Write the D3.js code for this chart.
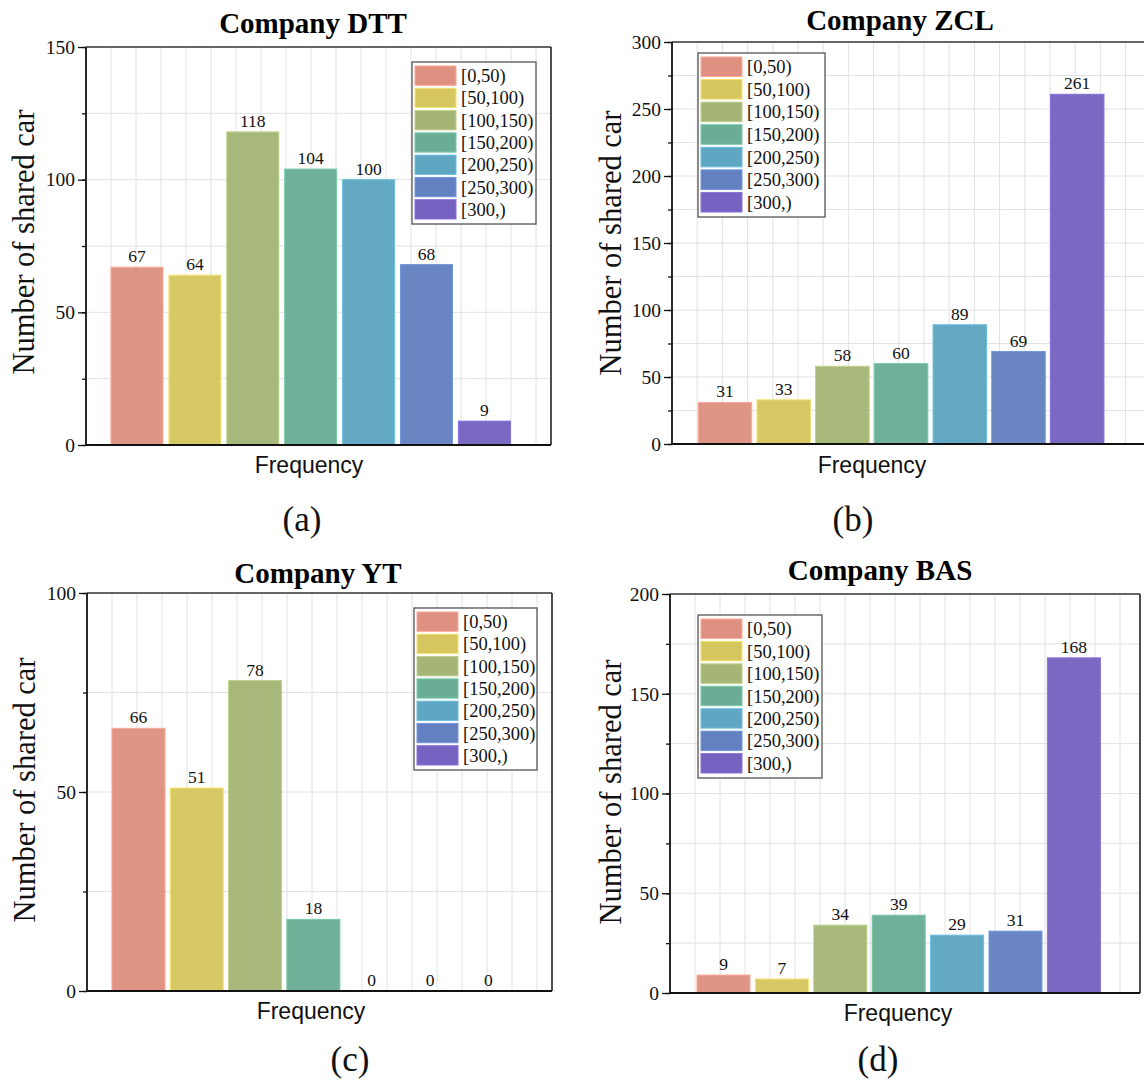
<!DOCTYPE html>
<html>
<head>
<meta charset="utf-8">
<script src="https://cdn.jsdelivr.net/npm/d3@7"></script>
<style>
  body{margin:0;background:#fff;}
  svg{display:block;}
</style>
</head>
<body>
<script>
var W=1144,H=1084,
    SERIF="'Liberation Serif','Times New Roman',serif",
    SANS="'Liberation Sans',Arial,sans-serif";

// data
var bins=["[0,50)","[50,100)","[100,150)","[150,200)","[200,250)","[250,300)","[300,)"];
var binColors=["#de9181","#d5c660","#a4b576","#69ae94","#5ea6c2","#6381c0","#7662c0"];
var companies=["Company DTT","Company ZCL","Company YT","Company BAS"];
var tags=["(a)","(b)","(c)","(d)"];
var dtt=[67,64,118,104,100,68,9];
var zcl=[31,33,58,60,89,69,261];
var yt=[66,51,78,18,0,0,0];
var bas=[9,7,34,39,29,31,168];
var yMax=[150,300,100,200];
var yMajor=[50,50,50,50];
var yMinor=[25,25,25,25];
var seriesList=[dtt,zcl,yt,bas];

// layout of each panel (pixels)
var panels=[
  {l:86,r:551,t:47,b:445,c0:137,step:57.9,bw:52,grid:25,
   leg:[412,62,124,162],title:[313,33],ylab:[34,242],xlab:[309,473],tag:[302,531]},
  {l:672,r:1150,t:42,b:444,c0:725,step:58.7,bw:53.5,grid:25.2,
   leg:[698,53,127,164],title:[900,30],ylab:[621,243],xlab:[872,473],tag:[853,531]},
  {l:87,r:552,t:593,b:991,c0:138.5,step:58.3,bw:53,grid:25,
   leg:[414,608,123,162],title:[318,583],ylab:[35,790],xlab:[311,1019],tag:[350,1071]},
  {l:670,r:1140,t:594,b:993,c0:723.5,step:58.4,bw:53,grid:25,
   leg:[698,615,124,163],title:[880,580],ylab:[621,792],xlab:[898,1021],tag:[878,1071]}
];

var svg=d3.select("body").append("svg").attr("width",W).attr("height",H);

panels.forEach(function(p,k){
  var vals=seriesList[k];
  var g=svg.append("g");
  var d0=-(p.c0-p.l)/p.step, d1=d0+(p.r-p.l)/p.step;
  var x=d3.scaleLinear().domain([d0,d1]).range([p.l,p.r]);
  var y=d3.scaleLinear().domain([0,yMax[k]]).range([p.b,p.t]);

  var clipId="clip"+k;
  g.append("clipPath").attr("id",clipId).append("rect")
    .attr("x",p.l).attr("y",p.t).attr("width",p.r-p.l).attr("height",p.b-p.t);

  // grid
  var gridG=g.append("g").attr("clip-path","url(#"+clipId+")");
  var gx=d3.range(d0+p.grid/p.step,d1,p.grid/p.step);
  gridG.selectAll("line.vx").data(gx).enter().append("line")
    .attr("x1",function(d){return x(d);}).attr("x2",function(d){return x(d);})
    .attr("y1",p.t).attr("y2",p.b)
    .attr("stroke","#e2e2e2").attr("stroke-width",1);
  var gy=d3.range(yMinor[k],yMax[k],yMinor[k]);
  gridG.selectAll("line.hy").data(gy).enter().append("line")
    .attr("x1",p.l).attr("x2",p.r)
    .attr("y1",function(d){return y(d);}).attr("y2",function(d){return y(d);})
    .attr("stroke","#e2e2e2").attr("stroke-width",1);

  // bars
  g.append("g").selectAll("rect").data(vals).enter().append("rect")
    .attr("x",function(d,i){return x(i)-p.bw/2;})
    .attr("y",function(d){return y(d);})
    .attr("width",p.bw)
    .attr("height",function(d){return y(0)-y(d);})
    .attr("fill",function(d,i){return binColors[i];})
    .attr("fill-opacity",0.96)
    .attr("stroke",function(d,i){return d3.rgb(binColors[i]).brighter(0.4);})
    .attr("stroke-width",1);

  // value labels
  g.append("g").selectAll("text").data(vals).enter().append("text")
    .style("font-family",SERIF)
    .attr("x",function(d,i){return x(i);})
    .attr("y",function(d){return y(d)-5;})
    .attr("text-anchor","middle")
    .attr("font-size",17.5)
    .attr("fill","#111")
    .text(function(d){return d;});

  // frame
  g.append("line").attr("x1",p.l).attr("x2",p.r).attr("y1",p.t).attr("y2",p.t)
    .attr("stroke","#333").attr("stroke-width",1.6);
  g.append("line").attr("x1",p.r).attr("x2",p.r).attr("y1",p.t).attr("y2",p.b)
    .attr("stroke","#222").attr("stroke-width",1.6);
  g.append("line").attr("x1",p.l).attr("x2",p.r).attr("y1",p.b).attr("y2",p.b)
    .attr("stroke","#111").attr("stroke-width",1.8);

  // y axis, minor then major ticks
  var minorAx=d3.axisLeft(y).tickValues(d3.range(0,yMax[k]+0.1,yMinor[k])).tickSize(4).tickFormat("");
  g.append("g").attr("transform","translate("+p.l+",0)").call(minorAx)
    .call(function(s){s.select(".domain").remove();s.selectAll("line").attr("stroke","#111").attr("stroke-width",1.3);});
  var majorAx=d3.axisLeft(y).tickValues(d3.range(0,yMax[k]+0.1,yMajor[k])).tickSize(8).tickPadding(3);
  var ya=g.append("g").attr("transform","translate("+p.l+",0)").call(majorAx);
  ya.select(".domain").attr("stroke","#111").attr("stroke-width",1.8).attr("d","M0,"+p.t+"V"+p.b);
  ya.selectAll("line").attr("stroke","#111").attr("stroke-width",1.3);
  ya.selectAll("text").style("font-family",SERIF).style("font-size","19.5px").attr("fill","#111");

  // legend
  var L=p.leg, rowH=(L[3]-6)/bins.length;
  var lg=g.append("g");
  lg.append("rect").attr("x",L[0]).attr("y",L[1]).attr("width",L[2]).attr("height",L[3])
    .attr("fill","#fff").attr("stroke","#555").attr("stroke-width",1.3);
  var items=lg.selectAll("g.it").data(bins).enter().append("g");
  items.append("rect")
    .attr("x",L[0]+3).attr("y",function(d,i){return L[1]+3+i*rowH+1;})
    .attr("width",41).attr("height",rowH-3)
    .attr("fill",function(d,i){return binColors[i];})
    .attr("stroke",function(d,i){return d3.rgb(binColors[i]).brighter(0.4);})
    .attr("stroke-width",1);
  items.append("text").style("font-family",SERIF)
    .attr("x",L[0]+49).attr("y",function(d,i){return L[1]+3+i*rowH+rowH/2+6;})
    .attr("font-size",18.5).attr("fill","#111")
    .text(function(d){return d;});

  // texts
  g.append("text").style("font-family",SERIF).attr("x",p.title[0]).attr("y",p.title[1])
    .attr("text-anchor","middle").attr("font-size",29).attr("font-weight","bold")
    .text(companies[k]);
  g.append("text").style("font-family",SERIF)
    .attr("transform","translate("+p.ylab[0]+","+p.ylab[1]+") rotate(-90)")
    .attr("text-anchor","middle").attr("font-size",30.5).attr("fill","#111")
    .text("Number of shared car");
  g.append("text").style("font-family",SANS).attr("x",p.xlab[0]).attr("y",p.xlab[1])
    .attr("text-anchor","middle").attr("font-size",23).attr("fill","#111")
    .text("Frequency");
  g.append("text").style("font-family",SERIF).attr("x",p.tag[0]).attr("y",p.tag[1])
    .attr("text-anchor","middle").attr("font-size",35).attr("fill","#111")
    .text(tags[k]);
});
</script>
</body>
</html>
